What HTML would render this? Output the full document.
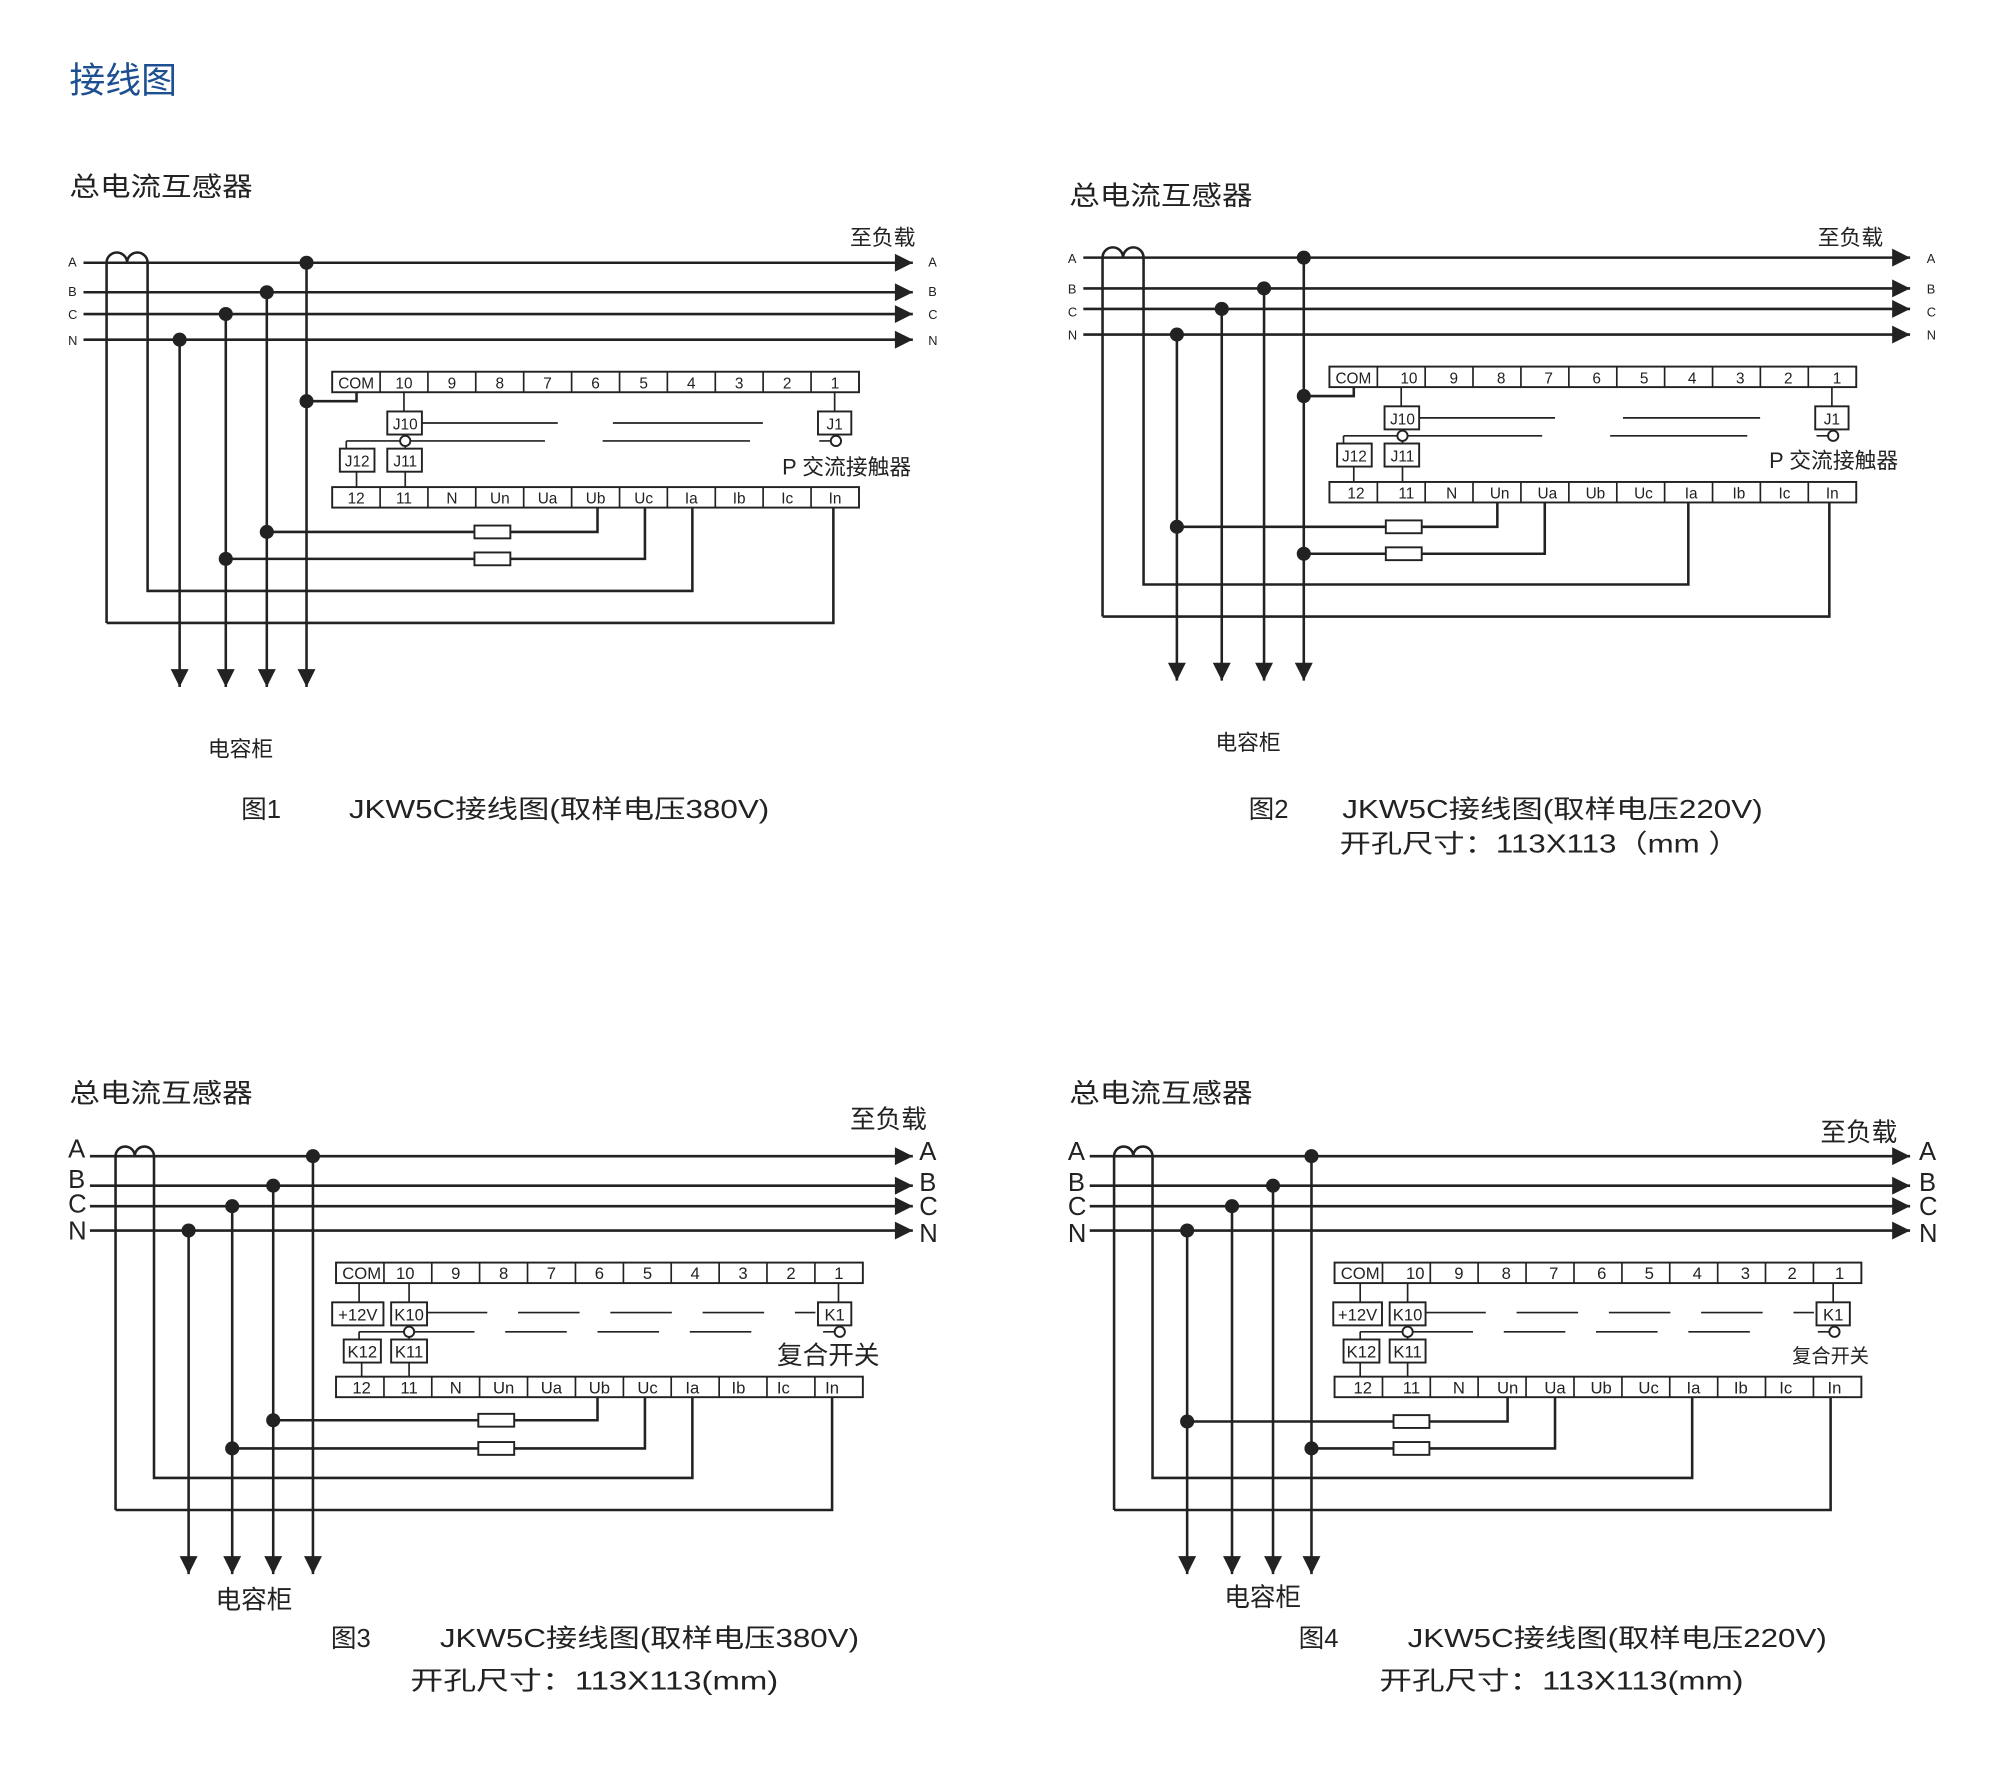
<!DOCTYPE html>
<html><head><meta charset="utf-8"><style>
html,body{margin:0;padding:0;background:#fff;}
svg{display:block;}
text{font-family:"Liberation Sans","Noto Sans CJK SC",sans-serif;fill:#222;}
.l{stroke:#222;stroke-width:2;fill:none;}
.t{stroke:#222;stroke-width:1.3;fill:none;}
.b{fill:#fff;stroke:#222;stroke-width:1.5;}
</style></head><body>
<svg width="2000" height="1783" viewBox="0 0 1560 1391" xmlns="http://www.w3.org/2000/svg">
<defs>
<marker id="ar2" viewBox="0 0 10 10" refX="10" refY="5" markerWidth="24" markerHeight="14" markerUnits="userSpaceOnUse" orient="auto"><path d="M0,0L10,5L0,10z" fill="#222"/></marker>
<g id="row">
<rect x="0" y="0" width="411" height="16" class="b"/>
<path class="t" d="M37.4,0v16M74.7,0v16M112,0v16M149.4,0v16M186.8,0v16M224.2,0v16M261.5,0v16M298.9,0v16M336.2,0v16M373.6,0v16"/>
</g>
<g id="fuse"><rect x="0" y="-5" width="28" height="10" class="b"/></g>
</defs>

<text x="54" y="72" font-size="28" style="fill:#1d4f91">接线图</text>

<!-- ========== FIG 1 ========== -->
<text x="54" y="153" font-size="21" textLength="143" lengthAdjust="spacingAndGlyphs">总电流互感器</text>
<text x="663" y="191" font-size="17">至负载</text>
<g font-size="10"><text x="53" y="208">A</text><text x="53" y="231">B</text><text x="53" y="249">C</text><text x="53" y="269">N</text>
<text x="724" y="208">A</text><text x="724" y="231">B</text><text x="724" y="249">C</text><text x="724" y="269">N</text></g>
<g class="l" marker-end="url(#ar2)">
<path d="M65,205H712"/><path d="M65,228H712"/><path d="M65,245H712"/><path d="M65,265H712"/>
<path d="M140,265V536"/><path d="M176,245V536"/><path d="M208,228V536"/><path d="M239,205V536"/>
</g>
<path class="l" d="M83,486V205a8,8 0 0 1 16,0a8,8 0 0 1 16,0V461H540V396"/>
<path class="l" d="M83,486H650V396"/>
<path class="l" d="M208,415H466V396M176,436H503V396M239,313H278V306"/>
<use href="#fuse" x="370" y="415"/><use href="#fuse" x="370" y="436"/>
<g fill="#222"><circle cx="239" cy="205" r="5.5"/><circle cx="208" cy="228" r="5.5"/><circle cx="176" cy="245" r="5.5"/><circle cx="140" cy="265" r="5.5"/><circle cx="239" cy="313" r="5.5"/><circle cx="208" cy="415" r="5.5"/><circle cx="176" cy="436" r="5.5"/></g>
<g transform="translate(259,290)">
<use href="#row"/><use href="#row" y="90"/>
<g font-size="12" text-anchor="middle"><text x="18.7" y="13">COM</text><text x="56" y="13">10</text><text x="93.4" y="13">9</text><text x="130.8" y="13">8</text><text x="168" y="13">7</text><text x="205.5" y="13">6</text><text x="243" y="13">5</text><text x="280.2" y="13">4</text><text x="317.5" y="13">3</text><text x="355" y="13">2</text><text x="392.3" y="13">1</text>
<text x="18.7" y="103">12</text><text x="56" y="103">11</text><text x="93.4" y="103">N</text><text x="130.8" y="103">Un</text><text x="168" y="103">Ua</text><text x="205.5" y="103">Ub</text><text x="243" y="103">Uc</text><text x="280.2" y="103">Ia</text><text x="317.5" y="103">Ib</text><text x="355" y="103">Ic</text><text x="392.3" y="103">In</text></g>
<path class="t" d="M56,16V31M70,40H176M219,40H336M11,54H53M61,54H166M211,54H326M11,54V60M57,58V60M19,78V90M57,78V90M392,16V31M380,54H389M393,49V50"/>
<rect x="43" y="31" width="27" height="18" class="b"/><rect x="6" y="60" width="27" height="18" class="b"/><rect x="43" y="60" width="27" height="18" class="b"/><rect x="379" y="31" width="26" height="18" class="b"/>
<circle cx="57" cy="54" r="4" class="b"/><circle cx="393" cy="54" r="4" class="b"/>
<g font-size="12" text-anchor="middle"><text x="57" y="45">J10</text><text x="19.5" y="74">J12</text><text x="57" y="74">J11</text><text x="392" y="45">J1</text></g>
<text x="351" y="80" font-size="17">P 交流接触器</text>
</g>
<text x="162" y="590" font-size="17">电容柜</text>
<text x="188" y="638" font-size="20">图1</text>
<text x="272" y="638" font-size="20" textLength="328" lengthAdjust="spacingAndGlyphs">JKW5C接线图(取样电压380V)</text>

<!-- ========== FIG 2 ========== -->
<text x="834" y="160" font-size="21" textLength="143" lengthAdjust="spacingAndGlyphs">总电流互感器</text>
<text x="1418" y="191" font-size="17">至负载</text>
<g font-size="10"><text x="833" y="205">A</text><text x="833" y="229">B</text><text x="833" y="247">C</text><text x="833" y="265">N</text>
<text x="1503" y="205">A</text><text x="1503" y="229">B</text><text x="1503" y="247">C</text><text x="1503" y="265">N</text></g>
<g class="l" marker-end="url(#ar2)">
<path d="M845,201H1490"/><path d="M845,225H1490"/><path d="M845,241H1490"/><path d="M845,261H1490"/>
<path d="M918,261V531"/><path d="M953,241V531"/><path d="M986,225V531"/><path d="M1017,201V531"/>
</g>
<path class="l" d="M860,481V201a8,8 0 0 1 16,0a8,8 0 0 1 16,0V456H1317V392"/>
<path class="l" d="M860,481H1427V392"/>
<path class="l" d="M918,411H1168V392M1017,432H1205V392M1017,309H1056V302"/>
<use href="#fuse" x="1081" y="411"/><use href="#fuse" x="1081" y="432"/>
<g fill="#222"><circle cx="1017" cy="201" r="5.5"/><circle cx="986" cy="225" r="5.5"/><circle cx="953" cy="241" r="5.5"/><circle cx="918" cy="261" r="5.5"/><circle cx="1017" cy="309" r="5.5"/><circle cx="918" cy="411" r="5.5"/><circle cx="1017" cy="432" r="5.5"/></g>
<g transform="translate(1037,286)">
<use href="#row"/><use href="#row" y="90"/>
<g font-size="12" text-anchor="middle"><text x="18.7" y="13">COM</text><text x="62" y="13">10</text><text x="97" y="13">9</text><text x="134" y="13">8</text><text x="171" y="13">7</text><text x="208.5" y="13">6</text><text x="245.5" y="13">5</text><text x="283" y="13">4</text><text x="320.5" y="13">3</text><text x="358" y="13">2</text><text x="396" y="13">1</text>
<text x="20.7" y="103">12</text><text x="60" y="103">11</text><text x="95.4" y="103">N</text><text x="132.8" y="103">Un</text><text x="170" y="103">Ua</text><text x="207.5" y="103">Ub</text><text x="245" y="103">Uc</text><text x="282.2" y="103">Ia</text><text x="319.5" y="103">Ib</text><text x="355" y="103">Ic</text><text x="392.3" y="103">In</text></g>
<path class="t" d="M56,16V31M70,40H176M229,40H336M11,54H53M61,54H166M219,54H326M11,54V60M57,58V60M19,78V90M57,78V90M392,16V31M380,54H389M393,49V50"/>
<rect x="43" y="31" width="27" height="18" class="b"/><rect x="6" y="60" width="27" height="18" class="b"/><rect x="43" y="60" width="27" height="18" class="b"/><rect x="379" y="31" width="26" height="18" class="b"/>
<circle cx="57" cy="54" r="4" class="b"/><circle cx="393" cy="54" r="4" class="b"/>
<g font-size="12" text-anchor="middle"><text x="57" y="45">J10</text><text x="19.5" y="74">J12</text><text x="57" y="74">J11</text><text x="392" y="45">J1</text></g>
<text x="343" y="79" font-size="17">P 交流接触器</text>
</g>
<text x="948" y="585" font-size="17">电容柜</text>
<text x="974" y="638" font-size="20">图2</text>
<text x="1047" y="638" font-size="20" textLength="328" lengthAdjust="spacingAndGlyphs">JKW5C接线图(取样电压220V)</text>
<text x="1045" y="665" font-size="20" textLength="312" lengthAdjust="spacingAndGlyphs">开孔尺寸：113X113（mm ）</text>

<!-- ========== FIG 3 ========== -->
<text x="54" y="860" font-size="21" textLength="143" lengthAdjust="spacingAndGlyphs">总电流互感器</text>
<text x="663" y="880" font-size="20">至负载</text>
<g font-size="20"><text x="53" y="903">A</text><text x="53" y="927">B</text><text x="53" y="946">C</text><text x="53" y="967">N</text>
<text x="717" y="905">A</text><text x="717" y="929">B</text><text x="717" y="948">C</text><text x="717" y="969">N</text></g>
<g class="l" marker-end="url(#ar2)">
<path d="M70,902H712"/><path d="M70,925H712"/><path d="M70,941H712"/><path d="M70,960H712"/>
<path d="M147,960V1228"/><path d="M181,941V1228"/><path d="M213,925V1228"/><path d="M244,902V1228"/>
</g>
<path class="l" d="M90,1178V902a7.5,7.5 0 0 1 15,0a7.5,7.5 0 0 1 15,0V1153H540V1090"/>
<path class="l" d="M90,1178H649V1090"/>
<path class="l" d="M213,1108H466V1090M181,1130H503V1090"/>
<use href="#fuse" x="373" y="1108"/><use href="#fuse" x="373" y="1130"/>
<g fill="#222"><circle cx="244" cy="902" r="5.5"/><circle cx="213" cy="925" r="5.5"/><circle cx="181" cy="941" r="5.5"/><circle cx="147" cy="960" r="5.5"/><circle cx="213" cy="1108" r="5.5"/><circle cx="181" cy="1130" r="5.5"/></g>
<g transform="translate(262,985)">
<use href="#row"/><use href="#row" y="89"/>
<g font-size="13" text-anchor="middle"><text x="20" y="13">COM</text><text x="54" y="13">10</text><text x="93.4" y="13">9</text><text x="130.8" y="13">8</text><text x="168" y="13">7</text><text x="205.5" y="13">6</text><text x="243" y="13">5</text><text x="280.2" y="13">4</text><text x="317.5" y="13">3</text><text x="355" y="13">2</text><text x="392.3" y="13">1</text>
<text x="20" y="102">12</text><text x="57" y="102">11</text><text x="93.4" y="102">N</text><text x="130.8" y="102">Un</text><text x="168" y="102">Ua</text><text x="205.5" y="102">Ub</text><text x="243" y="102">Uc</text><text x="278" y="102">Ia</text><text x="314" y="102">Ib</text><text x="349" y="102">Ic</text><text x="387" y="102">In</text></g>
<path class="t" d="M18,16V31M57,16V31M71,39H118M142,39H190M214,39H262M286,39H334M358,39H374M18,54H53M61,54H108M132,54H180M204,54H252M276,54H324M18,54V60M57,58V60M20,78V89M57,78V89M392,16V31M380,54H389M393,49V50"/>
<rect x="-3" y="31" width="40" height="18" class="b"/><rect x="43" y="31" width="28" height="18" class="b"/><rect x="6" y="60" width="29" height="18" class="b"/><rect x="43" y="60" width="28" height="18" class="b"/><rect x="376" y="31" width="26" height="18" class="b"/>
<circle cx="57" cy="54" r="4" class="b"/><circle cx="393" cy="54" r="4" class="b"/>
<g font-size="13" text-anchor="middle"><text x="17" y="45">+12V</text><text x="57" y="45">K10</text><text x="20.5" y="74">K12</text><text x="57" y="74">K11</text><text x="389" y="45">K1</text></g>
<text x="344" y="79" font-size="20">复合开关</text>
</g>
<text x="168" y="1255" font-size="20">电容柜</text>
<text x="258" y="1285" font-size="20">图3</text>
<text x="343" y="1285" font-size="20" textLength="327" lengthAdjust="spacingAndGlyphs">JKW5C接线图(取样电压380V)</text>
<text x="320" y="1318" font-size="20" textLength="287" lengthAdjust="spacingAndGlyphs">开孔尺寸：113X113(mm)</text>

<!-- ========== FIG 4 ========== -->
<text x="834" y="860" font-size="21" textLength="143" lengthAdjust="spacingAndGlyphs">总电流互感器</text>
<text x="1420" y="890" font-size="20">至负载</text>
<g font-size="20"><text x="833" y="905">A</text><text x="833" y="929">B</text><text x="833" y="948">C</text><text x="833" y="969">N</text>
<text x="1497" y="905">A</text><text x="1497" y="929">B</text><text x="1497" y="948">C</text><text x="1497" y="969">N</text></g>
<g class="l" marker-end="url(#ar2)">
<path d="M850,902H1490"/><path d="M850,925H1490"/><path d="M850,941H1490"/><path d="M850,960H1490"/>
<path d="M926,960V1228"/><path d="M961,941V1228"/><path d="M993,925V1228"/><path d="M1023,902V1228"/>
</g>
<path class="l" d="M869,1178V902a7.5,7.5 0 0 1 15,0a7.5,7.5 0 0 1 15,0V1153H1320V1090"/>
<path class="l" d="M869,1178H1428V1090"/>
<path class="l" d="M926,1109H1176V1090M1023,1130H1213V1090"/>
<use href="#fuse" x="1087" y="1109"/><use href="#fuse" x="1087" y="1130"/>
<g fill="#222"><circle cx="1023" cy="902" r="5.5"/><circle cx="993" cy="925" r="5.5"/><circle cx="961" cy="941" r="5.5"/><circle cx="926" cy="960" r="5.5"/><circle cx="926" cy="1109" r="5.5"/><circle cx="1023" cy="1130" r="5.5"/></g>
<g transform="translate(1041,985)">
<use href="#row"/><use href="#row" y="89"/>
<g font-size="13" text-anchor="middle"><text x="20" y="13">COM</text><text x="63" y="13">10</text><text x="97" y="13">9</text><text x="134" y="13">8</text><text x="171" y="13">7</text><text x="208.5" y="13">6</text><text x="245.5" y="13">5</text><text x="283" y="13">4</text><text x="320.5" y="13">3</text><text x="357" y="13">2</text><text x="394" y="13">1</text>
<text x="22" y="102">12</text><text x="60" y="102">11</text><text x="97" y="102">N</text><text x="135" y="102">Un</text><text x="172" y="102">Ua</text><text x="208" y="102">Ub</text><text x="245" y="102">Uc</text><text x="280" y="102">Ia</text><text x="317" y="102">Ib</text><text x="352" y="102">Ic</text><text x="390" y="102">In</text></g>
<path class="t" d="M20,16V31M57,16V31M71,39H118M142,39H190M214,39H262M286,39H334M358,39H374M20,54H53M61,54H108M132,54H180M204,54H252M276,54H324M20,54V60M57,58V60M20,78V89M57,78V89M389,16V31M377,54H386M390,49V50"/>
<rect x="-1" y="31" width="38" height="18" class="b"/><rect x="43" y="31" width="28" height="18" class="b"/><rect x="7" y="60" width="28" height="18" class="b"/><rect x="43" y="60" width="28" height="18" class="b"/><rect x="376" y="31" width="26" height="18" class="b"/>
<circle cx="57" cy="54" r="4" class="b"/><circle cx="390" cy="54" r="4" class="b"/>
<g font-size="13" text-anchor="middle"><text x="18" y="45">+12V</text><text x="57" y="45">K10</text><text x="21" y="74">K12</text><text x="57" y="74">K11</text><text x="389" y="45">K1</text></g>
<text x="357" y="78" font-size="15">复合开关</text>
</g>
<text x="955" y="1253" font-size="20">电容柜</text>
<text x="1013" y="1285" font-size="20">图4</text>
<text x="1098" y="1285" font-size="20" textLength="327" lengthAdjust="spacingAndGlyphs">JKW5C接线图(取样电压220V)</text>
<text x="1076" y="1318" font-size="20" textLength="284" lengthAdjust="spacingAndGlyphs">开孔尺寸：113X113(mm)</text>
</svg>
</body></html>
